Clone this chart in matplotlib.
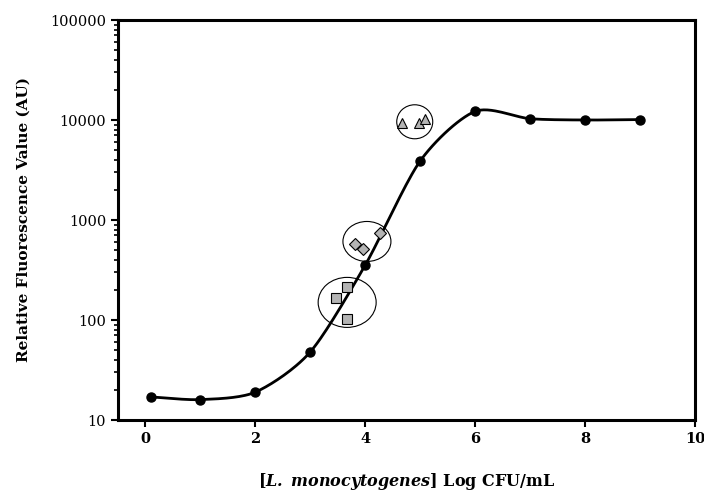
import numpy as np
import matplotlib.pyplot as plt
from matplotlib.patches import Ellipse
from matplotlib.transforms import ScaledTranslation, IdentityTransform

plt.rcParams['mathtext.fontset'] = 'dejavuserif'

# standard curve (black points)
std_x = [0.1, 1, 2, 3, 4, 5, 6, 7, 8, 9]
std_y = [17, 16, 19, 48, 355, 3900, 12200, 10300, 10000, 10100]

# sample groups
sq_x = [3.67, 3.47, 3.67]
sq_y = [214, 166, 103]
dia_x = [3.82, 3.96, 4.27]
dia_y = [580, 510, 740]
tri_x = [4.67, 4.97, 5.08]
tri_y = [9400, 9300, 10200]

def smooth_line(x, y, n=30, tension=0.8):
    # Catmull-Rom style spline through the points, in (x, log y) space
    x = np.asarray(x, float)
    ly = np.log10(y)
    px = np.concatenate([[2*x[0]-x[1]], x, [2*x[-1]-x[-2]]])
    py = np.concatenate([[2*ly[0]-ly[1]], ly, [2*ly[-1]-ly[-2]]])
    xs, ys = [], []
    t = np.linspace(0, 1, n)
    h00 = 2*t**3 - 3*t**2 + 1
    h10 = t**3 - 2*t**2 + t
    h01 = -2*t**3 + 3*t**2
    h11 = t**3 - t**2
    for i in range(1, len(px)-2):
        for arr, out in ((px, xs), (py, ys)):
            m1 = tension * 0.5 * (arr[i+1] - arr[i-1])
            m2 = tension * 0.5 * (arr[i+2] - arr[i])
            out.extend(h00*arr[i] + h10*m1 + h01*arr[i+1] + h11*m2)
    return np.array(xs), 10**np.array(ys)

fig = plt.figure(figsize=(7.04, 4.94), dpi=100)
ax = fig.add_axes([118/704, 74/494, 577/704, 400/494])

cx, cy = smooth_line(std_x, std_y)
ax.plot(cx, cy, color='black', lw=2, zorder=2)
ax.plot(std_x, std_y, 'o', color='black', ms=6.5, zorder=3)

gray = '#b3b3b3'
ax.plot(sq_x, sq_y, 's', mfc=gray, mec='black', mew=0.8, ms=7, zorder=4)
ax.plot(dia_x, dia_y, 'D', mfc=gray, mec='black', mew=0.8, ms=6, zorder=4)
ax.plot(tri_x, tri_y, '^', mfc=gray, mec='black', mew=0.8, ms=7, zorder=4)

ax.set_yscale('log')
ax.set_xlim(-0.5, 10)
ax.set_ylim(10, 100000)
fig.canvas.draw()

# circles drawn around each sample group, sized in pixels
def ring(xc, yc, w_px, h_px):
    e = Ellipse((0, 0), w_px, h_px, fill=False, ec='black', lw=0.8)
    e.set_transform(IdentityTransform() + ScaledTranslation(
        *ax.transData.transform((xc, yc)), IdentityTransform()))
    return e

for xc, yc, w, h in [(3.67, 150, 58, 50), (4.03, 610, 48, 40), (4.9, 9600, 36, 34)]:
    ax.add_patch(ring(xc, yc, w, h))

for s in ax.spines.values():
    s.set_linewidth(2.2)

ax.set_xticks([0, 2, 4, 6, 8, 10])
ax.set_yticks([10, 100, 1000, 10000, 100000])
ax.set_yticklabels(['10', '100', '1000', '10000', '100000'])
ax.tick_params(axis='both', which='major', direction='out', width=1.5, length=5)
ax.tick_params(axis='y', which='minor', direction='out', width=1.2, length=3)
ax.tick_params(axis='x', which='minor', bottom=False)
for lab in ax.get_xticklabels():
    lab.set_family('DejaVu Serif')
    lab.set_fontweight('bold')
    lab.set_fontsize(10.5)
for lab in ax.get_yticklabels():
    lab.set_family('DejaVu Serif')
    lab.set_fontsize(10.5)

ax.set_xlabel(r'[$\mathbfit{L.\ monocytogenes}$] Log CFU/mL', family='DejaVu Serif',
              fontweight='bold', fontsize=11.5, labelpad=18)
ax.set_ylabel('Relative Fluorescence Value (AU)', family='DejaVu Serif',
              fontweight='bold', fontsize=11, labelpad=14)

fig.savefig('out.png', dpi=100)
